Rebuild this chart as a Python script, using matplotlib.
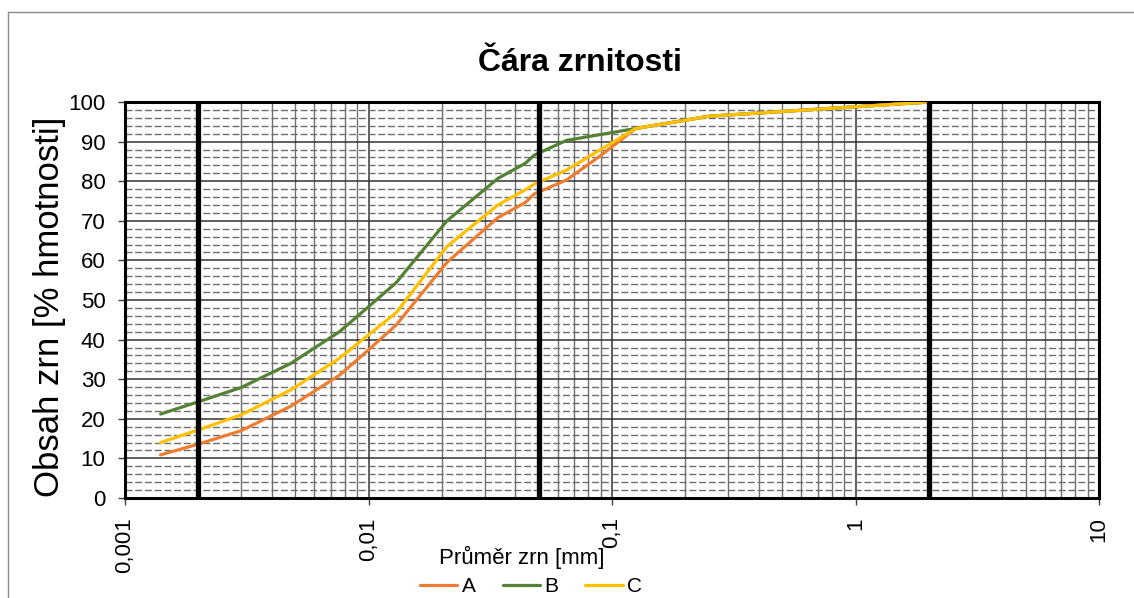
import numpy as np
import matplotlib
matplotlib.use('Agg')
import matplotlib.pyplot as plt
from matplotlib.ticker import FixedLocator, FixedFormatter, MultipleLocator, LogLocator, NullFormatter
from matplotlib.lines import Line2D

plt.rcParams['font.family'] = ['Liberation Sans', 'DejaVu Sans']

# grain diameter [mm] and passing [% by mass]
prumer = [0.0014, 0.002, 0.003, 0.0048, 0.0076, 0.01, 0.013, 0.021, 0.034,
          0.044, 0.048, 0.065, 0.09, 0.125, 0.25, 0.5, 1, 2]
vzorek_A = [10.9, 13.6, 17.0, 23.2, 31.0, 37.4, 43.7, 59.5, 70.8,
            74.6, 76.8, 80.3, 86.5, 93.3, 96.4, 97.6, 98.8, 100]
vzorek_B = [21.2, 24.3, 27.9, 34.0, 42.0, 48.3, 54.4, 70.0, 80.7,
            84.5, 86.6, 90.3, 91.8, 93.3, 96.4, 97.6, 98.8, 100]
vzorek_C = [14.0, 17.2, 21.0, 27.3, 35.3, 41.2, 46.8, 63.5, 74.0,
            77.8, 79.3, 82.8, 88.0, 93.3, 96.4, 97.6, 98.8, 100]
nazvy = ['A', 'B', 'C']
barvy = ['#ED7D31', '#548235', '#FFC000']

x_ticks = [0.001, 0.01, 0.1, 1, 10]
x_labels = ['0,001', '0,01', '0,1', '1', '10']
y_ticks = list(range(0, 101, 10))
hranice = [0.002, 0.05, 2]   # clay / silt / sand / gravel limits

fig = plt.figure(figsize=(11.34, 5.98), dpi=100)
ax = fig.add_axes([125 / 1134, 100 / 598, 974 / 1134, 396 / 598])

for y, name, c in zip([vzorek_A, vzorek_B, vzorek_C], nazvy, barvy):
    ax.plot(prumer, y, color=c, lw=2.3, label=name, zorder=3, solid_capstyle='round')

for h in hranice:
    ax.axvline(h, color='black', lw=3.8, zorder=4)

ax.set_xscale('log')
ax.set_xlim(0.001, 10)
ax.set_ylim(0, 100)
ax.xaxis.set_major_locator(FixedLocator(x_ticks))
ax.xaxis.set_major_formatter(FixedFormatter(x_labels))
ax.xaxis.set_minor_locator(LogLocator(base=10, subs=np.arange(2, 10)))
ax.xaxis.set_minor_formatter(NullFormatter())
ax.yaxis.set_major_locator(FixedLocator(y_ticks))
ax.yaxis.set_minor_locator(MultipleLocator(2))

ax.grid(True, which='major', axis='x', color='#333333', lw=1.1, zorder=1)
ax.grid(True, which='minor', axis='x', color='#6f6f6f', lw=1.0, zorder=1)
ax.grid(True, which='major', axis='y', color='#333333', lw=1.1, zorder=1)
ax.grid(True, which='minor', axis='y', color='#6f6f6f', lw=1.0, ls=(0, (5, 2)), zorder=1)
ax.set_axisbelow(True)

for s in ax.spines.values():
    s.set_linewidth(2.2)
    s.set_color('black')

ax.tick_params(which='major', direction='out', length=5, width=1, color='#404040',
               labelsize=16, pad=9)
ax.tick_params(which='minor', length=0)
plt.setp(ax.get_xticklabels(), rotation=90, va='top', ha='center')

fig.text(580 / 1134, 1 - 63 / 598, 'Čára zrnitosti', fontsize=23, fontweight='bold',
         ha='center', va='center')
fig.text(522 / 1134, 1 - 557 / 598, 'Průměr zrn [mm]', fontsize=16,
         ha='center', va='center')
fig.text(50 / 1134, 1 - 307 / 598, 'Obsah zrn [% hmotnosti]', fontsize=25, rotation=90,
         ha='center', va='center')

fig.legend(loc='center', bbox_to_anchor=(531 / 1134, 1 - 587 / 598), ncol=3, frameon=False,
           fontsize=15, handlelength=1.8, handletextpad=0.2,
           columnspacing=1.3, borderpad=0, borderaxespad=0)

# chart area frame (cut off at the right and bottom)
fig.add_artist(Line2D([8 / 1134, 8 / 1134], [0, 1 - 12 / 598], transform=fig.transFigure,
                      color='#8c8c8c', lw=1))
fig.add_artist(Line2D([8 / 1134, 1], [1 - 12 / 598, 1 - 12 / 598], transform=fig.transFigure,
                      color='#8c8c8c', lw=1))

fig.savefig('out.png', dpi=100)
